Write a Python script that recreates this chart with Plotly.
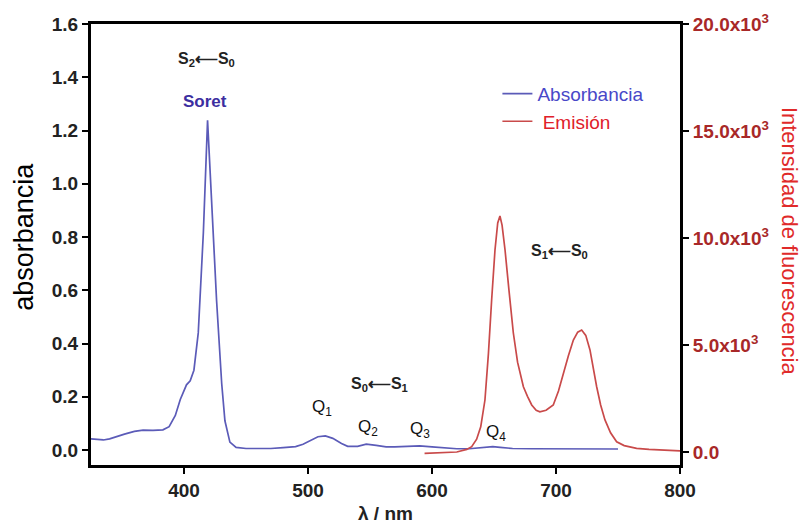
import plotly.graph_objects as go

# Absorbance spectrum
abs_wl = [325, 330, 335, 340, 346, 352, 360, 367, 375, 383, 388, 393, 397, 402, 405, 408, 411.5,
          415.6, 419, 422.3, 426.3, 430.4, 433, 437, 442, 450, 460, 470, 480, 490, 496, 503, 508,
          514, 520, 527, 532, 540, 547, 555, 563, 570, 580, 590, 600, 610, 620, 630, 640, 649, 655,
          665, 680, 700, 720, 750]
abs_val = [0.042, 0.039, 0.038, 0.042, 0.052, 0.06, 0.07, 0.075, 0.074, 0.076, 0.088, 0.13, 0.19,
           0.245, 0.26, 0.30, 0.44, 0.815, 1.238, 0.94, 0.56, 0.25, 0.11, 0.03, 0.01, 0.006, 0.005,
           0.006, 0.009, 0.013, 0.022, 0.04, 0.05, 0.053, 0.044, 0.025, 0.014, 0.014, 0.022, 0.018,
           0.012, 0.012, 0.014, 0.016, 0.012, 0.008, 0.005, 0.005, 0.008, 0.013, 0.01, 0.006, 0.005,
           0.004, 0.004, 0.004]

# Emission spectrum
em_wl = [594, 600, 610, 620, 628, 632, 636, 639.3, 642.7, 645.5, 648.1, 650.8, 653, 654.8, 656.5,
         658.9, 662, 665.6, 669, 673.7, 677, 680.4, 684, 687, 692, 697.8, 702, 705.9, 710, 714,
         717.5, 720.7, 724, 727.4, 730, 732.8, 736, 739.5, 744, 748.9, 755, 765, 775, 784, 792, 800]
em_val = [-60, -50, -30, 0, 120, 250, 600, 1180, 2430, 4600, 7100, 9440, 10700, 11030, 10600,
          9440, 7600, 5560, 4200, 3050, 2600, 2200, 1950, 1880, 1950, 2200, 2850, 3690, 4500, 5230,
          5600, 5700, 5450, 4770, 3900, 3050, 2200, 1500, 900, 480, 300, 170, 120, 90, 60, 50]

x_ticks = [400, 500, 600, 700, 800]
y_ticks = [0.0, 0.2, 0.4, 0.6, 0.8, 1.0, 1.2, 1.4, 1.6]
y2_ticks = [0, 5000, 10000, 15000, 20000]
y2_labels = ["0.0", "5.0x10<sup>3</sup>", "10.0x10<sup>3</sup>", "15.0x10<sup>3</sup>", "20.0x10<sup>3</sup>"]

BLUE = "#5b5bb8"
RED = "#c94a4a"

fig = go.Figure()
fig.add_trace(go.Scatter(x=abs_wl, y=abs_val, mode="lines", line=dict(color=BLUE, width=1.7),
                         name="<span style='color:#4848c8'>Absorbancia</span>"))
fig.add_trace(go.Scatter(x=em_wl, y=em_val, mode="lines", line=dict(color=RED, width=1.7),
                         name="<span style='color:#e0202a'> Emisión</span>", yaxis="y2"))

tickfont = dict(family="Arial", size=19, color="#222222", weight="bold")

fig.update_layout(
    width=799, height=515,
    margin=dict(l=83, r=127, t=16, b=58),
    paper_bgcolor="white", plot_bgcolor="white",
    showlegend=True,
    legend=dict(x=0.69, y=0.885, xanchor="left", yanchor="top", bgcolor="rgba(0,0,0,0)",
                font=dict(family="Arial", size=19)),
    xaxis=dict(range=[325, 800], tickvals=x_ticks, ticks="outside", ticklen=6, tickwidth=2,
               tickcolor="black", showline=True, linewidth=3, linecolor="black", mirror=True,
               showgrid=False, zeroline=False, tickfont=tickfont, automargin=False),
    yaxis=dict(range=[-0.056, 1.6], tickvals=y_ticks, tickformat=".1f", ticks="outside", ticklen=6,
               tickwidth=2, tickcolor="black", showline=True, linewidth=3, linecolor="black",
               showgrid=False, zeroline=False, tickfont=tickfont, automargin=False),
    yaxis2=dict(range=[-607, 20000], overlaying="y", side="right", tickvals=y2_ticks,
                ticktext=y2_labels, ticks="outside", ticklen=6, tickwidth=2, tickcolor="black",
                showline=True, linewidth=3, linecolor="black", showgrid=False, zeroline=False,
                tickfont=dict(family="Arial", size=19, color="#a82828", weight="bold"),
                automargin=False),
)

ann_font_b = dict(family="Arial", size=16, color="#222222", weight="bold")
ann_font = dict(family="Arial", size=17, color="#111111")
arrow = "⟵"
annotations = [
    dict(x=418.5, y=1.466, text="S<sub>2</sub>" + arrow + "S<sub>0</sub>", font=ann_font_b),
    dict(x=417, y=1.31, text="Soret", font=dict(family="Arial", size=17, color="#3c2ea0", weight="bold")),
    dict(x=558, y=0.245, text="S<sub>0</sub>" + arrow + "S<sub>1</sub>", font=ann_font_b),
    dict(x=703, y=0.744, text="S<sub>1</sub>" + arrow + "S<sub>0</sub>", font=ann_font_b),
    dict(x=511, y=0.158, text="Q<sub>1</sub>", font=ann_font),
    dict(x=548, y=0.083, text="Q<sub>2</sub>", font=ann_font),
    dict(x=590, y=0.075, text="Q<sub>3</sub>", font=ann_font),
    dict(x=652, y=0.064, text="Q<sub>4</sub>", font=ann_font),
]
for a in annotations:
    fig.add_annotation(xref="x", yref="y", showarrow=False, **a)

# Axis titles
fig.add_annotation(xref="paper", yref="paper", x=-0.114, y=0.517, text="absorbancia",
                   textangle=-90, showarrow=False, xanchor="center", yanchor="middle",
                   font=dict(family="Arial", size=27, color="black"))
fig.add_annotation(xref="paper", yref="paper", x=0.5, y=-0.109, text="<b>λ / nm</b>",
                   showarrow=False, xanchor="center", yanchor="middle",
                   font=dict(family="Arial", size=19, color="#222222"))
fig.add_annotation(xref="paper", yref="paper", x=1.185, y=0.506, text="Intensidad de fluorescencia",
                   textangle=90, showarrow=False, xanchor="center", yanchor="middle",
                   font=dict(family="Arial", size=22, color="#e02a2a"))

fig.write_html("out.html")
